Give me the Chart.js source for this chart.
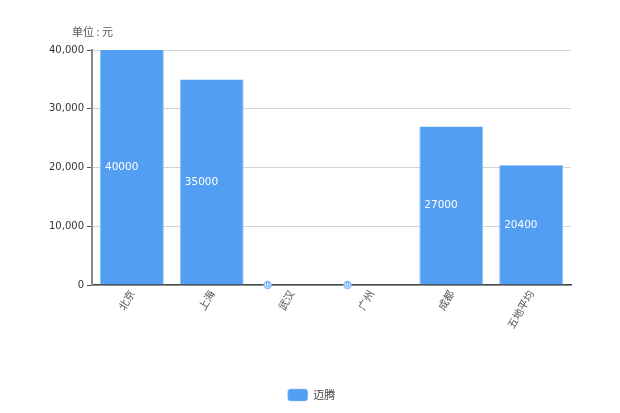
<!DOCTYPE html>
<html>
<head>
<meta charset="utf-8">
<style>
  html, body { margin: 0; padding: 0; background: #fff; }
  #wrap { width: 620px; height: 413px; }
</style>
<script src="https://cdn.jsdelivr.net/npm/chart.js@4"></script>
</head>
<body>
<div id="wrap"><canvas id="chart" width="620" height="413"></canvas></div>
<script>
const cities = ['北京', '上海', '武汉', '广州', '成都', '五地平均'];
const maitengValues = [40000, 35000, 0, 0, 27000, 20400];
const seriesName = '迈腾';
const unitLabel = '单位 : 元';
const yTicks = [0, 10000, 20000, 30000, 40000];

const cjkFont = '"Noto Sans CJK SC", "Noto Sans", sans-serif';
const numFont = '"DejaVu Sans", sans-serif';
const barBlue = '#529ef2';

// value labels + unit text
const barLabels = {
  id: 'barLabels',
  afterLayout(chart) {
    // legend sits in the middle of the whole canvas, not the padded box
    chart.legend.left += 26;
    chart.legend.right += 26;
  },
  afterDraw(chart) {
    const ctx = chart.ctx;
    const bars = chart.getDatasetMeta(0).data;
    ctx.save();
    ctx.textBaseline = 'middle';
    bars.forEach((bar, i) => {
      const val = maitengValues[i];
      const left = bar.x - bar.width / 2;
      if (val === 0) {
        // empty bars just get a small bubble on the axis
        ctx.beginPath();
        ctx.arc(left + 8, bar.y, 3.5, 0, Math.PI * 2);
        ctx.fillStyle = '#e3f0fe';
        ctx.fill();
        ctx.lineWidth = 1.5;
        ctx.strokeStyle = '#8fc2f9';
        ctx.stroke();
        ctx.fillStyle = '#3f8de6';
        ctx.textAlign = 'center';
        ctx.font = '7px ' + numFont;
        ctx.fillText(val, left + 8, bar.y);
      } else {
        ctx.fillStyle = '#fff';
        ctx.textAlign = 'left';
        ctx.font = '10.5px ' + numFont;
        ctx.fillText(val, left + 5, (bar.y + bar.base) / 2);
      }
    });
    ctx.fillStyle = '#555';
    ctx.textAlign = 'left';
    ctx.font = '11px ' + cjkFont;
    ctx.fillText(unitLabel, 72, 32);
    ctx.restore();
  }
};

new Chart(document.getElementById('chart'), {
  type: 'bar',
  data: {
    labels: cities,
    datasets: [{
      label: seriesName,
      data: maitengValues,
      backgroundColor: barBlue,
      borderColor: '#8fc2f9',
      borderWidth: { left: 1, right: 1 },
      barPercentage: 0.8,
      categoryPercentage: 1
    }]
  },
  options: {
    responsive: false,
    animation: false,
    layout: { padding: { top: 50, right: 49, left: 0, bottom: 2 } },
    plugins: {
      tooltip: { enabled: false },
      legend: {
        position: 'bottom',
        labels: {
          boxWidth: 20,
          boxHeight: 12,
          useBorderRadius: true,
          borderRadius: 3,
          color: '#444',
          font: { family: cjkFont, size: 11 }
        }
      }
    },
    scales: {
      x: {
        afterFit(axis) { axis.height = 94; },
        grid: { display: false },
        border: { color: '#444', width: 1.5 },
        ticks: {
          color: '#555',
          padding: -5,
          maxRotation: 60,
          minRotation: 60,
          font: { family: cjkFont, size: 10.5 }
        }
      },
      y: {
        min: 0,
        max: 40000,
        afterBuildTicks(axis) {
          axis.ticks = yTicks.map(v => ({ value: v }));
        },
        afterFit(axis) { axis.width = 92; },
        grid: { color: '#d4d4d4', tickColor: '#555', tickLength: 5 },
        border: { color: '#888', width: 2 },
        ticks: {
          color: '#333',
          font: { family: numFont, size: 10 },
          callback: v => v.toLocaleString('en-US')
        }
      }
    }
  },
  plugins: [barLabels]
});
</script>
</body>
</html>
